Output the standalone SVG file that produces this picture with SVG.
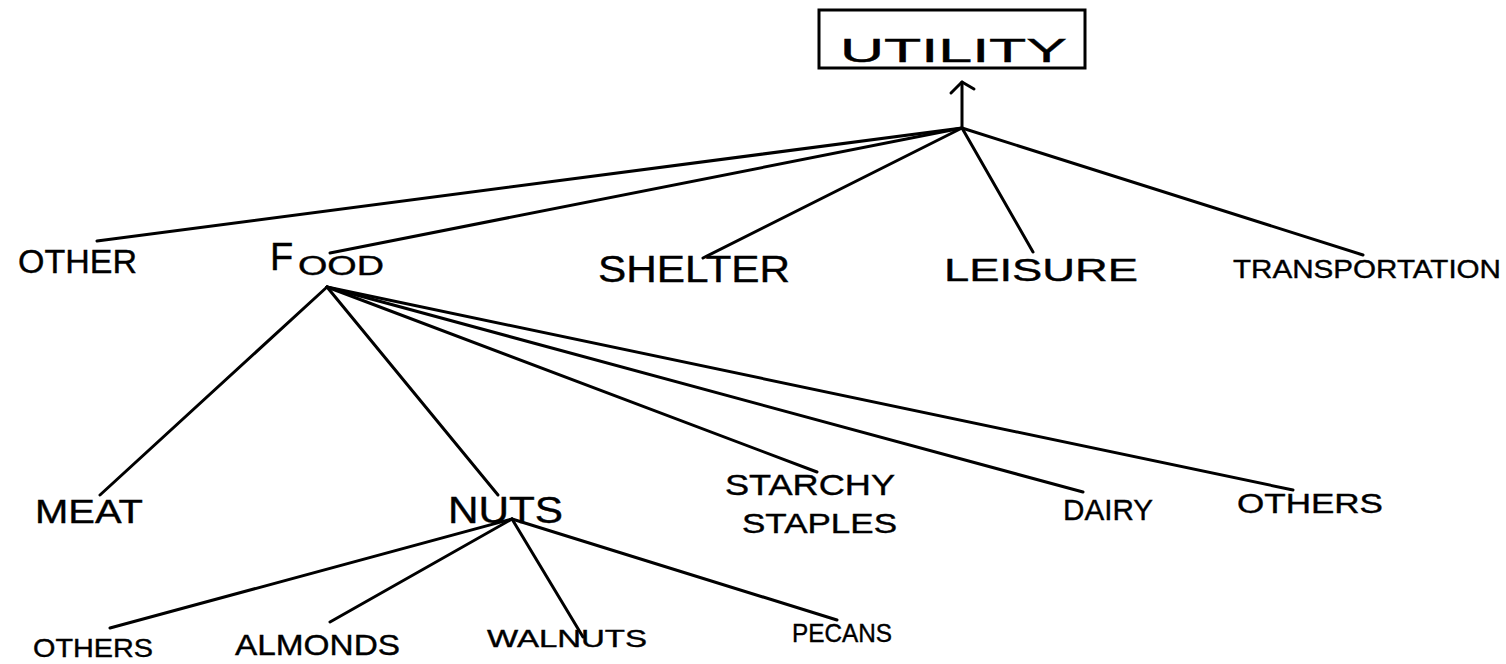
<svg xmlns="http://www.w3.org/2000/svg" width="1506" height="664" viewBox="0 0 1506 664">
  <style>
    .lbl { font-family: "Liberation Sans", Arial, sans-serif; fill: #000; stroke: #000; stroke-width: 0.4; }
    .edge { stroke: #000; stroke-width: 3; fill: none; stroke-linecap: round; stroke-linejoin: round; }
    .box { stroke: #000; stroke-width: 3; fill: #fff; }
  </style>
  <rect width="1506" height="664" fill="#fff"/>

  <g id="connectors">
    <line class="edge" x1="962" y1="128" x2="962" y2="82"/>
    <path class="edge" d="M951,93 L962,82 L974,89"/>
    <line class="edge" x1="962" y1="128" x2="97" y2="241"/>
    <line class="edge" x1="962" y1="128" x2="330" y2="253"/>
    <line class="edge" x1="962" y1="128" x2="703" y2="258"/>
    <line class="edge" x1="962" y1="128" x2="1033" y2="252"/>
    <line class="edge" x1="962" y1="128" x2="1363" y2="255"/>
    <line class="edge" x1="327" y1="287" x2="100" y2="495"/>
    <line class="edge" x1="327" y1="287" x2="498" y2="495"/>
    <line class="edge" x1="327" y1="287" x2="817" y2="472"/>
    <line class="edge" x1="327" y1="287" x2="1083" y2="492"/>
    <line class="edge" x1="327" y1="287" x2="1293" y2="490"/>
    <line class="edge" x1="512" y1="519" x2="110" y2="628"/>
    <line class="edge" x1="512" y1="519" x2="330" y2="622"/>
    <line class="edge" x1="512" y1="519" x2="583" y2="637"/>
    <line class="edge" x1="512" y1="519" x2="837" y2="620"/>
  </g>

  <g id="utility">
    <rect class="box" x="819" y="10" width="266" height="58"/>
    <text class="lbl" x="840" y="62" font-size="34" textLength="227" lengthAdjust="spacingAndGlyphs">UTILITY</text>
  </g>
  <g id="other">
    <text class="lbl" x="18" y="273" font-size="34" textLength="119" lengthAdjust="spacingAndGlyphs">OTHER</text>
  </g>
  <g id="food">
    <text class="lbl" x="270" y="270" font-size="38">F<tspan x="298" y="275" font-size="27" textLength="86" lengthAdjust="spacingAndGlyphs">OOD</tspan></text>
  </g>
  <g id="shelter">
    <text class="lbl" x="598" y="282" font-size="36" textLength="192" lengthAdjust="spacingAndGlyphs">SHELTER</text>
  </g>
  <g id="leisure">
    <text class="lbl" x="944" y="281" font-size="32" textLength="194" lengthAdjust="spacingAndGlyphs">LEISURE</text>
  </g>
  <g id="transportation">
    <text class="lbl" x="1233" y="278" font-size="26" textLength="268" lengthAdjust="spacingAndGlyphs">TRANSPORTATION</text>
  </g>
  <g id="meat">
    <text class="lbl" x="35" y="523" font-size="34" textLength="108" lengthAdjust="spacingAndGlyphs">MEAT</text>
  </g>
  <g id="nuts">
    <text class="lbl" x="448" y="523" font-size="36" textLength="115" lengthAdjust="spacingAndGlyphs">NUTS</text>
  </g>
  <g id="starchy-staples">
    <text class="lbl" x="725" y="495" font-size="30" textLength="170" lengthAdjust="spacingAndGlyphs">STARCHY</text>
    <text class="lbl" x="742" y="533" font-size="28" textLength="155" lengthAdjust="spacingAndGlyphs">STAPLES</text>
  </g>
  <g id="dairy">
    <text class="lbl" x="1063" y="520" font-size="30" textLength="90" lengthAdjust="spacingAndGlyphs">DAIRY</text>
  </g>
  <g id="others-food">
    <text class="lbl" x="1237" y="513" font-size="28" textLength="146" lengthAdjust="spacingAndGlyphs">OTHERS</text>
  </g>
  <g id="others-nuts">
    <text class="lbl" x="33" y="657" font-size="26" textLength="120" lengthAdjust="spacingAndGlyphs">OTHERS</text>
  </g>
  <g id="almonds">
    <text class="lbl" x="235" y="655" font-size="30" textLength="165" lengthAdjust="spacingAndGlyphs">ALMONDS</text>
  </g>
  <g id="walnuts">
    <text class="lbl" x="487" y="647" font-size="24" textLength="160" lengthAdjust="spacingAndGlyphs">WALNUTS</text>
  </g>
  <g id="pecans">
    <text class="lbl" x="792" y="642" font-size="26" textLength="100" lengthAdjust="spacingAndGlyphs">PECANS</text>
  </g>
</svg>
